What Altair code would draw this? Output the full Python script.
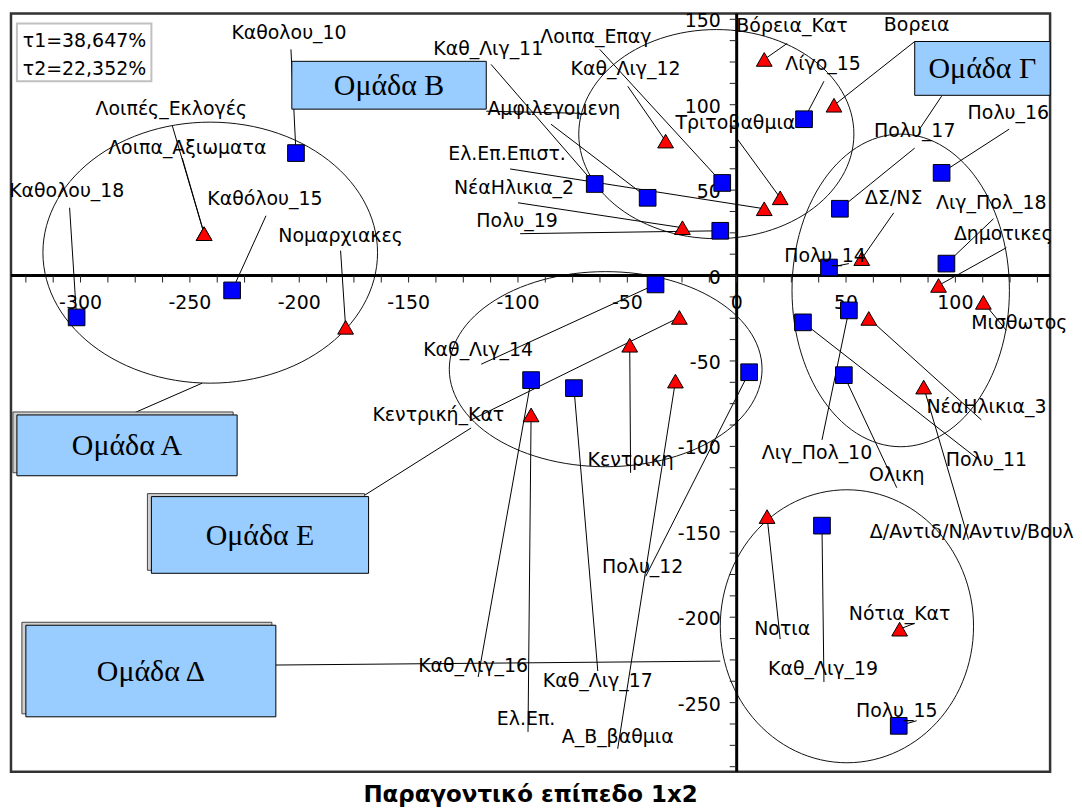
import altair as alt
import pandas as pd

# ---------------- data (factor plane coordinates) ----------------
names = ["Καθολου_10", "Καθολου_18", "Καθόλου_15", "Λοιπές_Εκλογές", "Λοιπα_Αξιωματα",
         "Νομαρχιακες", "Καθ_Λιγ_11", "Αμφιλεγομενη", "Λοιπα_Επαγ", "Πολυ_19",
         "Καθ_Λιγ_12", "ΝέαΗλικια_2", "Ελ.Επ.Επιστ.", "Τριτοβαθμια", "Βόρεια_Κατ",
         "Λίγο_15", "Βορεια", "Πολυ_16", "Πολυ_17", "ΔΣ/ΝΣ",
         "Πολυ_14", "Λιγ_Πολ_18", "Δημοτικες", "Μισθωτος", "Λιγ_Πολ_10",
         "Πολυ_11", "ΝέαΗλικια_3", "Ολικη", "Δ/Αντιδ/Ν/Αντιν/Βουλ", "Καθ_Λιγ_14",
         "Κεντρική_Κατ", "Κεντρικη", "Α_Β_βαθμια", "Πολυ_12", "Καθ_Λιγ_16",
         "Ελ.Επ.", "Καθ_Λιγ_17", "Νοτια", "Καθ_Λιγ_19", "Νότια_Κατ", "Πολυ_15"]
kinds = ["sq", "sq", "sq", "tri", "tri",
         "tri", "sq", "sq", "sq", "sq",
         "tri", "tri", "tri", "tri", "tri",
         "sq", "tri", "sq", "sq", "tri",
         "sq", "sq", "tri", "tri", "sq",
         "sq", "tri", "sq", "tri", "sq",
         "tri", "tri", "tri", "sq", "sq",
         "tri", "sq", "tri", "sq", "tri", "sq"]
factor1 = [-201.5, -301.8, -230.7, -243.5, -243.5,
           -178.8, -64.9, -40.7, -6.6, -7.5,
           -32.5, -24.8, 12.6, 19.9, 12.6,
           30.8, 44.5, 93.7, 47.2, 57.2,
           42.2, 95.9, 92.3, 112.8, 51.3,
           30.3, 60.4, 49.0, 85.5, -37.1,
           -26.2, -48.9, -28.0, 5.7, -94.0,
           -94.0, -74.4, 13.9, 39.0, 74.5, 74.1]
factor2 = [71.7, -24.5, -8.7, 24.5, 24.5,
           -30.3, 53.6, 45.5, 54.2, 26.2,
           78.7, 28.0, 39.1, 45.5, 126.5,
           91.5, 99.7, 60.1, 39.1, 9.9,
           4.7, 7.0, -5.8, -15.7, -20.4,
           -27.4, -25.1, -58.3, -65.3, -5.2,
           -24.5, -40.8, -61.8, -56.6, -61.2,
           -81.6, -65.9, -141.1, -146.4, -207.0, -263.6]
# label anchor positions (in factor units) and start of the leader line
label_x = [-204.7, -306.3, -215.7, -258.5, -251.2,
           -181.1, -113.6, -83.6, -64.4, -100.4,
           -50.8, -101.8, -105.0, -0.6, 25.3,
           39.5, 82.3, 124.2, 81.4, 71.8,
           40.4, 116.4, 121.9, 129.2, 36.7,
           114.2, 114.2, 73.2, 60.9, -118.2,
           -136.4, -48.5, -54.4, -43.0, -120.5,
           -96.3, -63.5, 20.8, 39.5, 74.5, 73.2]
label_y = [141.7, 49.6, 44.9, 97.4, 74.6,
           23.3, 132.4, 97.4, 139.9, 32.1,
           120.7, 51.3, 71.1, 89.2, 145.8,
           123.6, 146.9, 95.0, 84.5, 45.5,
           11.7, 42.6, 24.5, -28.0, -103.8,
           -107.9, -77.0, -116.6, -150.4, -43.7,
           -81.6, -107.9, -270.0, -170.8, -228.6,
           -259.5, -237.3, -207.0, -230.3, -198.3, -254.8]
label_align = ["c"] * 28 + ["l"] + ["c"] * 12
lead_x = [-203.8, -305.0, -215.2, -258.0, -253.5,
          -181.1, -112.3, -84.9, -62.6, -99.0,
          -49.8, -100.0, -103.6, 0.3, 23.1,
          39.9, 81.4, 124.6, 81.4, 71.8,
          51.3, 117.4, 123.3, 123.3, 39.0,
          111.9, 111.9, 73.2, 106.0, -116.8,
          -121.4, -48.5, -54.4, -41.6, -118.2,
          -95.4, -63.5, 19.9, 39.9, 81.4, 82.3]
lead_y = [132.4, 39.7, 35.0, 87.5, 68.8,
          14.6, 123.6, 88.6, 132.4, 24.5,
          110.8, 42.6, 62.4, 79.9, 135.9,
          113.7, 137.0, 85.7, 74.6, 36.7,
          7.0, 33.2, 16.3, -32.1, -96.2,
          -109.0, -84.5, -124.2, -154.5, -51.9,
          -84.5, -115.5, -277.0, -176.1, -235.0,
          -267.1, -231.5, -212.8, -237.9, -203.5, -260.6]

# groups (ellipses, boxes and their leader lines)
groups = ["Ομάδα Α", "Ομάδα Β", "Ομάδα Γ", "Ομάδα Δ", "Ομάδα Ε"]
ell_cx = [-240.7, -9.3, 75.0, 50.4, -59.9]
ell_cy = [13.4, 82.8, -8.7, -205.3, -54.8]
ell_rx = [76.5, 62.9, 49.7, 57.9, 71.5]
ell_ry = [76.4, 61.2, 91.5, 79.9, 57.1]
box_x1 = [-329.1, -203.4, 81.4, -325.0, -267.6]
box_x2 = [-228.4, -114.5, 143.3, -210.7, -168.3]
box_y1 = [-81.6, 125.4, 137.0, -204.7, -129.4]
box_y2 = [-117.2, 97.4, 105.5, -258.3, -174.3]
box_shadow = [True, False, False, True, True]
gl_x1 = [-277.6, -114.5, 93.7, -210.7, -170.5]
gl_y1 = [-81.6, 96.2, 105.0, -228.0, -128.9]
gl_x2 = [-244.4, -71.7, 83.6, -7.5, -121.4]
gl_y2 = [-63.0, 95.0, 85.7, -225.7, -89.2]

x_tick_values = [-300, -250, -200, -150, -100, -50, 0, 50, 100]
x_tick_labels = ["-300", "-250", "-200", "-150", "-100", "-50", "0", "50", "100"]
y_tick_values = [150, 100, 50, 0, -50, -100, -150, -200, -250]
y_tick_labels = ["150", "100", "50", "0", "-50", "-100", "-150", "-200", "-250"]
x_minor = [-325 + 12.5 * i for i in range(38)]
y_minor = [-287.5 + 12.5 * i for i in range(36)]

inertia_text = ["τ1=38,647%", "τ2=22,352%"]
inertia_y = [137.0, 120.7]
inertia_box = {"x1": [-329.1], "x2": [-267.6], "y1": [147.5], "y2": [113.7]}

frame = {"x1": [-331.8], "x2": [143.3], "y1": [153.4], "y2": [-290.4]}

title_text = "Παραγοντικό επίπεδο 1x2"

# ---------------- chart ----------------
FONT = "DejaVu Sans"
xs = alt.Scale(domain=[-331.8, 143.3], nice=False, zero=False)
ys = alt.Scale(domain=[-290.4, 153.4], nice=False, zero=False)


def X(f):
    return alt.X(f, type="quantitative", scale=xs, axis=None)


def Y(f):
    return alt.Y(f, type="quantitative", scale=ys, axis=None)


pts = pd.DataFrame({"name": names, "kind": kinds, "f1": factor1, "f2": factor2,
                    "lx": label_x, "ly": label_y, "al": label_align,
                    "sx": lead_x, "sy": lead_y})
ell_df = pd.DataFrame({"group": groups, "cx": ell_cx, "cy": ell_cy,
                       "rx": ell_rx, "ry": ell_ry})
box_df = pd.DataFrame({"group": groups, "x1": box_x1, "x2": box_x2,
                       "y1": box_y1, "y2": box_y2, "shadow": box_shadow,
                       "gx1": gl_x1, "gy1": gl_y1, "gx2": gl_x2, "gy2": gl_y2})
box_df["mx"] = (box_df["x1"] + box_df["x2"]) / 2
box_df["my"] = (box_df["y1"] + box_df["y2"]) / 2
zero_df = pd.DataFrame({"z": [0]})
xt_df = pd.DataFrame({"t": x_tick_values, "lab": x_tick_labels, "z": 0})
yt_df = pd.DataFrame({"t": y_tick_values, "lab": y_tick_labels, "z": 0})
xm_df = pd.DataFrame({"t": x_minor, "z": 0})
ym_df = pd.DataFrame({"t": y_minor, "z": 0})

frame_box = alt.Chart(pd.DataFrame(frame)).mark_rect(
    fillOpacity=0, stroke="#333333", strokeWidth=2.5).encode(
    x=X("x1"), x2="x2:Q", y=Y("y1"), y2="y2:Q")

ellipses = alt.Chart(ell_df).transform_calculate(
    deg="sequence(0, 361, 3)"
).transform_flatten(["deg"]).transform_calculate(
    ex="datum.cx + datum.rx * cos(datum.deg * PI / 180)",
    ey="datum.cy + datum.ry * sin(datum.deg * PI / 180)",
).mark_line(color="#111111", strokeWidth=1).encode(
    x=X("ex"), y=Y("ey"), detail="group:N", order=alt.Order("deg:Q")
)

hline = alt.Chart(zero_df).mark_rule(color="black", strokeWidth=3).encode(y=Y("z"))
vline = alt.Chart(zero_df).mark_rule(color="black", strokeWidth=3).encode(x=X("z"))

# small tick marks hanging below the horizontal axis / left of the vertical axis
xminor = alt.Chart(xm_df).mark_point(shape="M0,0L0,2", size=49, filled=False,
                                     stroke="#222222", strokeWidth=1, opacity=1).encode(
    x=X("t"), y=Y("z"))
yminor = alt.Chart(ym_df).mark_point(shape="M0,0L-2,0", size=49, filled=False,
                                     stroke="#222222", strokeWidth=1, opacity=1).encode(
    y=Y("t"), x=X("z"))

xlabels = alt.Chart(xt_df).mark_text(font=FONT, fontSize=19, dy=28, color="black",
                                     baseline="middle").encode(
    x=X("t"), y=Y("z"), text="lab:N")
ylabels = alt.Chart(yt_df).mark_text(font=FONT, fontSize=19, dx=-16, dy=2, align="right",
                                     color="black", baseline="middle").encode(
    x=X("z"), y=Y("t"), text="lab:N")

leaders = alt.Chart(pts).mark_rule(color="black", strokeWidth=1).encode(
    x=X("sx"), y=Y("sy"), x2="f1:Q", y2="f2:Q")

gleaders = alt.Chart(box_df).mark_rule(color="black", strokeWidth=1).encode(
    x=X("gx1"), y=Y("gy1"), x2="gx2:Q", y2="gy2:Q")

shadows = alt.Chart(box_df).transform_filter("datum.shadow").mark_rect(
    fill="#d0d0d0", stroke="#444444", strokeWidth=1,
    xOffset=-4, x2Offset=-4, yOffset=-3, y2Offset=-3).encode(
    x=X("x1"), x2="x2:Q", y=Y("y1"), y2="y2:Q")
boxes = alt.Chart(box_df).mark_rect(fill="#99CCFF", stroke="black", strokeWidth=1).encode(
    x=X("x1"), x2="x2:Q", y=Y("y1"), y2="y2:Q")
box_text = alt.Chart(box_df).mark_text(font="Liberation Serif", fontSize=30, color="black",
                                       baseline="middle", dy=1).encode(
    x=X("mx"), y=Y("my"), text="group:N")

squares = alt.Chart(pts).transform_filter("datum.kind == 'sq'").mark_square(
    size=280, fill="#0000FF", stroke="black", strokeWidth=1, opacity=1).encode(
    x=X("f1"), y=Y("f2"))
triangles = alt.Chart(pts).transform_filter("datum.kind == 'tri'").mark_point(
    shape="triangle-up", size=250, filled=True, fill="#FF0000", stroke="black",
    strokeWidth=1, opacity=1).encode(x=X("f1"), y=Y("f2"))

labels_c = alt.Chart(pts).transform_filter("datum.al == 'c'").mark_text(
    font=FONT, fontSize=19, color="black", baseline="middle").encode(
    x=X("lx"), y=Y("ly"), text="name:N")
labels_l = alt.Chart(pts).transform_filter("datum.al == 'l'").mark_text(
    font=FONT, fontSize=19, color="black", baseline="middle", align="left").encode(
    x=X("lx"), y=Y("ly"), text="name:N")

ibox = alt.Chart(pd.DataFrame(inertia_box)).mark_rect(
    fill="white", stroke="#c0c0c0", strokeWidth=2).encode(
    x=X("x1"), x2="x2:Q", y=Y("y1"), y2="y2:Q")
itext = alt.Chart(pd.DataFrame({"t": inertia_text, "y": inertia_y, "x": -326.4})).mark_text(
    font=FONT, fontSize=19, color="black", align="left", baseline="middle").encode(
    x=X("x"), y=Y("y"), text="t:N")

chart = alt.layer(
    frame_box, ellipses, leaders, gleaders, hline, vline, xminor, yminor, xlabels, ylabels,
    shadows, boxes, box_text, squares, triangles, labels_c, labels_l, ibox, itext
).properties(
    width=1043, height=761,
    autosize=alt.AutoSizeParams(type="none"),
    padding={"left": 3, "top": 4, "right": 24, "bottom": 40},
    title=alt.TitleParams(title_text, orient="bottom", anchor="middle", font=FONT,
                          fontSize=23, fontWeight="bold", color="black", offset=11),
).configure_view(strokeWidth=0).configure(background="white")

chart.save("out.html", embed_options={"renderer": "svg", "actions": False})
